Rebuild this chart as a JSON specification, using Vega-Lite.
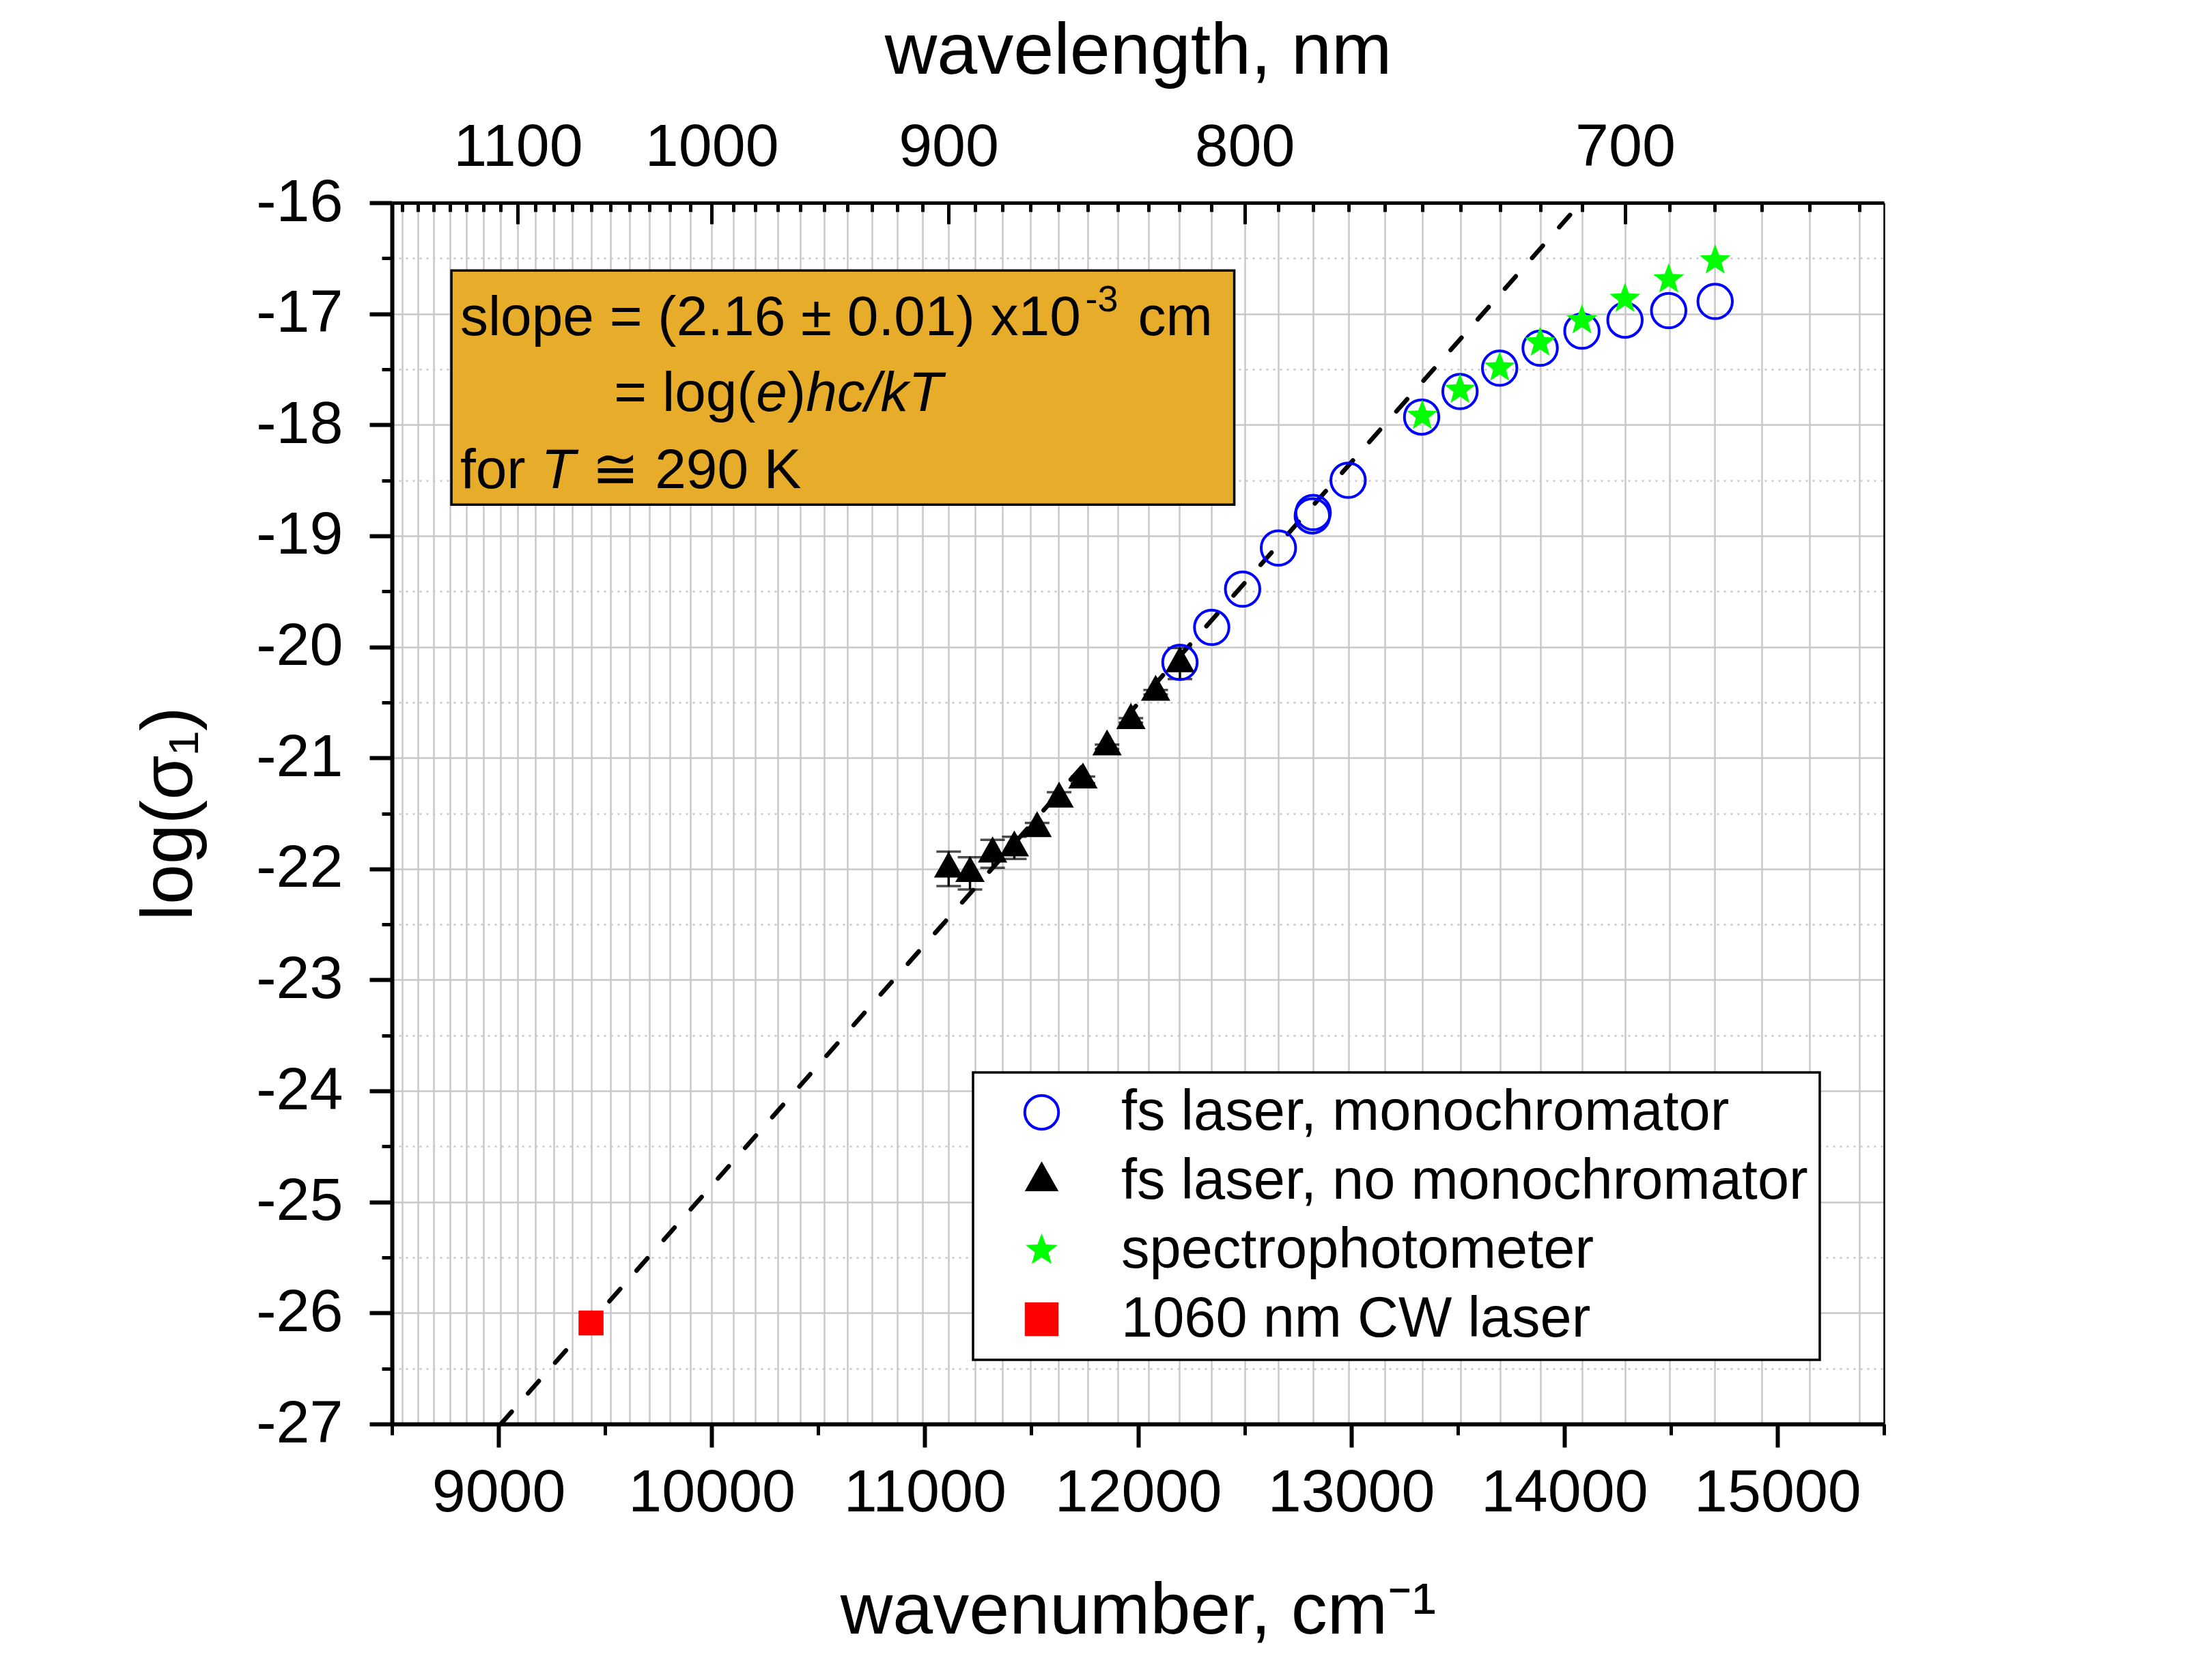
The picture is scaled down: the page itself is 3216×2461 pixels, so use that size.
{
  "$schema": "https://vega.github.io/schema/vega-lite/v6.json",
  "width": 2185,
  "height": 1789,
  "autosize": {"type": "none"},
  "padding": {"left": 574, "top": 297, "right": 457, "bottom": 375},
  "background": "white",
  "config": {
    "view": {"stroke": null},
    "font": "Liberation Sans",
    "axis": {"labelFont": "Liberation Sans", "titleFont": "Liberation Sans", "labelColor": "black", "titleColor": "black", "tickColor": "black", "domainColor": "black", "titleFontWeight": "normal", "labelFlush": false, "labelOverlap": false, "labelAngle": 0, "labelLimit": 2000, "titleLimit": 3000},
    "legend": {"strokeWidth": 3.5, "symbolOpacity": 1}
  },
  "datasets": {
    "box": [{"w": 8779, "w2": 12452, "v": -16.61, "v2": -18.72}],
    "fit": [{"w": 9011, "v": -27}, {"w": 14078, "v": -16}],
    "err": [
      {"w": 11112, "v": -22.0, "err": 0.155},
      {"w": 11212, "v": -22.04, "err": 0.145},
      {"w": 11318, "v": -21.864, "err": 0.126},
      {"w": 11420, "v": -21.81, "err": 0.1},
      {"w": 11527, "v": -21.636, "err": 0.05},
      {"w": 11630, "v": -21.37, "err": 0.06},
      {"w": 11742, "v": -21.198, "err": 0.03},
      {"w": 11855, "v": -20.9, "err": 0.02},
      {"w": 11967, "v": -20.662, "err": 0.02},
      {"w": 12083, "v": -20.408, "err": 0.02},
      {"w": 12197, "v": -20.15, "err": 0.14}
    ],
    "pts": [
      {"w": 12197, "v": -20.14, "series": "fs laser, monochromator"},
      {"w": 12346, "v": -19.825, "series": "fs laser, monochromator"},
      {"w": 12491, "v": -19.48, "series": "fs laser, monochromator"},
      {"w": 12659, "v": -19.11, "series": "fs laser, monochromator"},
      {"w": 12818, "v": -18.82, "series": "fs laser, monochromator"},
      {"w": 12822, "v": -18.79, "series": "fs laser, monochromator"},
      {"w": 12986, "v": -18.5, "series": "fs laser, monochromator"},
      {"w": 13331, "v": -17.93, "series": "fs laser, monochromator"},
      {"w": 13511, "v": -17.7, "series": "fs laser, monochromator"},
      {"w": 13697, "v": -17.49, "series": "fs laser, monochromator"},
      {"w": 13887, "v": -17.31, "series": "fs laser, monochromator"},
      {"w": 14083, "v": -17.156, "series": "fs laser, monochromator"},
      {"w": 14285, "v": -17.057, "series": "fs laser, monochromator"},
      {"w": 14490, "v": -16.972, "series": "fs laser, monochromator"},
      {"w": 14708, "v": -16.889, "series": "fs laser, monochromator"},
      {"w": 11112, "v": -22.0, "series": "fs laser, no monochromator"},
      {"w": 11212, "v": -22.04, "series": "fs laser, no monochromator"},
      {"w": 11318, "v": -21.864, "series": "fs laser, no monochromator"},
      {"w": 11420, "v": -21.81, "series": "fs laser, no monochromator"},
      {"w": 11527, "v": -21.636, "series": "fs laser, no monochromator"},
      {"w": 11630, "v": -21.37, "series": "fs laser, no monochromator"},
      {"w": 11742, "v": -21.198, "series": "fs laser, no monochromator"},
      {"w": 11855, "v": -20.9, "series": "fs laser, no monochromator"},
      {"w": 11967, "v": -20.662, "series": "fs laser, no monochromator"},
      {"w": 12083, "v": -20.408, "series": "fs laser, no monochromator"},
      {"w": 12197, "v": -20.15, "series": "fs laser, no monochromator"},
      {"w": 13334, "v": -17.92, "series": "spectrophotometer"},
      {"w": 13511, "v": -17.685, "series": "spectrophotometer"},
      {"w": 13697, "v": -17.485, "series": "spectrophotometer"},
      {"w": 13887, "v": -17.26, "series": "spectrophotometer"},
      {"w": 14083, "v": -17.06, "series": "spectrophotometer"},
      {"w": 14285, "v": -16.866, "series": "spectrophotometer"},
      {"w": 14490, "v": -16.69, "series": "spectrophotometer"},
      {"w": 14708, "v": -16.52, "series": "spectrophotometer"},
      {"w": 9434, "v": -26.09, "series": "1060 nm CW laser"}
    ],
    "txt": [
      {"w": 8820, "v": -17.19, "t": "slope = (2.16 ± 0.01) x10"},
      {"w": 12000, "v": -17.19, "t": "cm"},
      {"w": 9542, "v": -17.873, "t": "= log("},
      {"w": 10354.5, "v": -17.873, "t": ")"},
      {"w": 8820, "v": -18.568, "t": "for"},
      {"w": 9440, "v": -18.568, "t": "≅ 290 K"}
    ],
    "txti": [
      {"w": 10208, "v": -17.873, "t": "e"},
      {"w": 10442, "v": -17.873, "t": "hc/kT"},
      {"w": 9200, "v": -18.568, "t": "T"}
    ],
    "txts": [
      {"w": 11753, "v": -16.978, "t": "-3"}
    ]
  },
  "resolve": {"axis": {"x": "independent", "y": "independent"}},
  "layer": [
    {
      "data": {"name": "box"},
      "mark": {"type": "rect", "fill": "#E6AC2A", "stroke": "black", "strokeWidth": 3.5},
      "encoding": {
        "x": {"field": "w", "type": "quantitative", "scale": {"domain": [8500, 15500], "nice": false, "zero": false},
          "axis": {"orient": "bottom", "values": [9000, 10000, 11000, 12000, 13000, 14000, 15000], "tickSize": 34, "tickWidth": 6, "domainWidth": 6, "labelFontSize": 88, "labelPadding": 23, "labelExpr": "'' + datum.value", "grid": false, "title": "wavenumber, cm⁻¹", "titleFontSize": 106, "titleBaseline": "alphabetic", "titleY": 306}},
        "x2": {"field": "w2"},
        "y": {"field": "v", "type": "quantitative", "scale": {"domain": [-27, -16], "nice": false, "zero": false},
          "axis": {"orient": "left", "values": [-27, -26, -25, -24, -23, -22, -21, -20, -19, -18, -17, -16], "tickSize": 33, "tickWidth": 6, "domainWidth": 6, "labelFontSize": 88, "labelPadding": 39, "labelExpr": "'' + datum.value", "grid": true, "gridColor": "#c8c8c8", "gridWidth": 2.5, "title": "log(σ₁)", "titleFontSize": 106, "titleBaseline": "alphabetic", "titleX": -294}},
        "y2": {"field": "v2"}
      }
    },
    {
      "data": {"name": "fit"},
      "mark": {"type": "line", "color": "black", "strokeWidth": 6.5, "strokeDash": [24, 36], "strokeCap": "round"},
      "encoding": {
        "x": {"field": "w", "type": "quantitative", "scale": {"domain": [8500, 15500], "nice": false, "zero": false},
          "axis": {"orient": "bottom", "values": [8500, 9500, 10500, 11500, 12500, 13500, 14500, 15500], "tickSize": 16, "tickWidth": 5, "labels": false, "domain": false, "grid": false, "title": null}},
        "y": {"field": "v", "type": "quantitative", "scale": {"domain": [-27, -16], "nice": false, "zero": false},
          "axis": {"orient": "left", "values": [-26.5, -25.5, -24.5, -23.5, -22.5, -21.5, -20.5, -19.5, -18.5, -17.5, -16.5], "tickSize": 15, "tickWidth": 5, "labels": false, "domain": false, "grid": true, "gridColor": "#c8c8c8", "gridWidth": 2.5, "gridDash": [3, 7], "title": null}}
      }
    },
    {
      "data": {"name": "err"},
      "mark": {"type": "errorbar", "color": "black", "thickness": 3.5, "ticks": {"size": 36, "thickness": 3.5}},
      "encoding": {
        "x": {"field": "w", "type": "quantitative", "scale": {"domain": [8500, 15500], "nice": false, "zero": false}, "axis": null},
        "y": {"field": "v", "type": "quantitative", "scale": {"domain": [-27, -16], "nice": false, "zero": false}, "axis": null},
        "yError": {"field": "err"}
      }
    },
    {
      "data": {"name": "pts"},
      "mark": {"type": "point", "filled": true, "strokeWidth": 4, "opacity": 1},
      "encoding": {
        "x": {"field": "w", "type": "quantitative", "scale": {"domain": [8500, 15500], "nice": false, "zero": false},
          "axis": {"orient": "top", "values": [9090.909, 10000, 11111.111, 12500, 14285.714], "tickSize": -31, "tickWidth": 5, "domainWidth": 5, "labelFontSize": 88, "labelBaseline": "alphabetic", "labelPadding": 86, "labelExpr": "format(1e7/datum.value, '.0f')", "grid": true, "gridColor": "#c8c8c8", "gridWidth": 2.5, "title": "wavelength, nm", "titleFontSize": 106, "titleBaseline": "alphabetic", "titleY": -190}},
        "y": {"field": "v", "type": "quantitative", "scale": {"domain": [-27, -16], "nice": false, "zero": false},
          "axis": {"orient": "right", "labels": false, "ticks": false, "grid": false, "domain": true, "domainWidth": 2.5, "title": null}},
        "fill": {"field": "series", "type": "nominal",
          "scale": {"domain": ["fs laser, monochromator", "fs laser, no monochromator", "spectrophotometer", "1060 nm CW laser"], "range": ["transparent", "#000000", "#00FF00", "#FF0000"]},
          "legend": {"title": null, "orient": "none", "legendX": 851, "legendY": 1274, "padding": 17, "strokeColor": "black", "fillColor": "white", "symbolOffset": 42, "labelOffset": 75, "labelFontSize": 83, "labelFont": "Liberation Sans", "labelColor": "black", "rowPadding": 17, "symbolSize": 2450, "symbolStrokeWidth": 4, "labelLimit": 3000}},
        "stroke": {"field": "series", "type": "nominal",
          "scale": {"domain": ["fs laser, monochromator", "fs laser, no monochromator", "spectrophotometer", "1060 nm CW laser"], "range": ["#0000FF", "transparent", "transparent", "transparent"]},
          "legend": {"title": null, "orient": "none", "legendX": 851, "legendY": 1274, "padding": 17, "strokeColor": "black", "fillColor": "white", "symbolOffset": 42, "labelOffset": 75, "labelFontSize": 83, "labelFont": "Liberation Sans", "labelColor": "black", "rowPadding": 17, "symbolSize": 2450, "symbolStrokeWidth": 4, "labelLimit": 3000}},
        "shape": {"field": "series", "type": "nominal",
          "scale": {"domain": ["fs laser, monochromator", "fs laser, no monochromator", "spectrophotometer", "1060 nm CW laser"], "range": ["circle", "M0,-1.18L1,0.59L-1,0.59Z", "M0,-1L0.247,-0.34L0.951,-0.309L0.399,0.13L0.588,0.809L0,0.42L-0.588,0.809L-0.399,0.13L-0.951,-0.309L-0.247,-0.34Z", "square"]},
          "legend": {"title": null, "orient": "none", "legendX": 851, "legendY": 1274, "padding": 17, "strokeColor": "black", "fillColor": "white", "symbolOffset": 42, "labelOffset": 75, "labelFontSize": 83, "labelFont": "Liberation Sans", "labelColor": "black", "rowPadding": 17, "symbolSize": 2450, "symbolStrokeWidth": 4, "labelLimit": 3000,
            "encode": {"symbols": {"update": {"size": {"signal": "datum.value === 'fs laser, monochromator' ? 2450 : datum.value === '1060 nm CW laser' ? 1340 : 1950"}}}}}},
        "size": {"condition": [
          {"test": "datum.series === 'fs laser, monochromator'", "value": 2550},
          {"test": "datum.series === 'spectrophotometer'", "value": 2250},
          {"test": "datum.series === '1060 nm CW laser'", "value": 1340}
        ], "value": 1850}
      }
    },
    {
      "data": {"name": "txt"},
      "mark": {"type": "text", "align": "left", "baseline": "alphabetic", "fontSize": 82, "font": "Liberation Sans", "color": "black"},
      "encoding": {
        "x": {"field": "w", "type": "quantitative", "scale": {"domain": [8500, 15500], "nice": false, "zero": false},
          "axis": {"orient": "top", "values": [8547.009, 8620.69, 8695.652, 8771.93, 8849.558, 8928.571, 9009.009, 9174.312, 9259.259, 9345.794, 9433.962, 9523.81, 9615.385, 9708.738, 9803.922, 9900.99, 10101.01, 10204.082, 10309.278, 10416.667, 10526.316, 10638.298, 10752.688, 10869.565, 10989.011, 11235.955, 11363.636, 11494.253, 11627.907, 11764.706, 11904.762, 12048.193, 12195.122, 12345.679, 12658.228, 12820.513, 12987.013, 13157.895, 13333.333, 13513.514, 13698.63, 13888.889, 14084.507, 14492.754, 14705.882, 14925.373, 15151.515, 15384.615], "tickSize": -13, "tickWidth": 5, "labels": false, "domain": false, "grid": true, "gridColor": "#c8c8c8", "gridWidth": 2.5, "title": null}},
        "y": {"field": "v", "type": "quantitative", "scale": {"domain": [-27, -16], "nice": false, "zero": false}, "axis": null},
        "text": {"field": "t"}
      }
    },
    {
      "data": {"name": "txti"},
      "mark": {"type": "text", "align": "left", "baseline": "alphabetic", "fontSize": 82, "fontStyle": "italic", "font": "Liberation Sans", "color": "black"},
      "encoding": {
        "x": {"field": "w", "type": "quantitative", "scale": {"domain": [8500, 15500], "nice": false, "zero": false}, "axis": null},
        "y": {"field": "v", "type": "quantitative", "scale": {"domain": [-27, -16], "nice": false, "zero": false}, "axis": null},
        "text": {"field": "t"}
      }
    },
    {
      "data": {"name": "txts"},
      "mark": {"type": "text", "align": "left", "baseline": "alphabetic", "fontSize": 54, "font": "Liberation Sans", "color": "black"},
      "encoding": {
        "x": {"field": "w", "type": "quantitative", "scale": {"domain": [8500, 15500], "nice": false, "zero": false}, "axis": null},
        "y": {"field": "v", "type": "quantitative", "scale": {"domain": [-27, -16], "nice": false, "zero": false}, "axis": null},
        "text": {"field": "t"}
      }
    }
  ]
}
